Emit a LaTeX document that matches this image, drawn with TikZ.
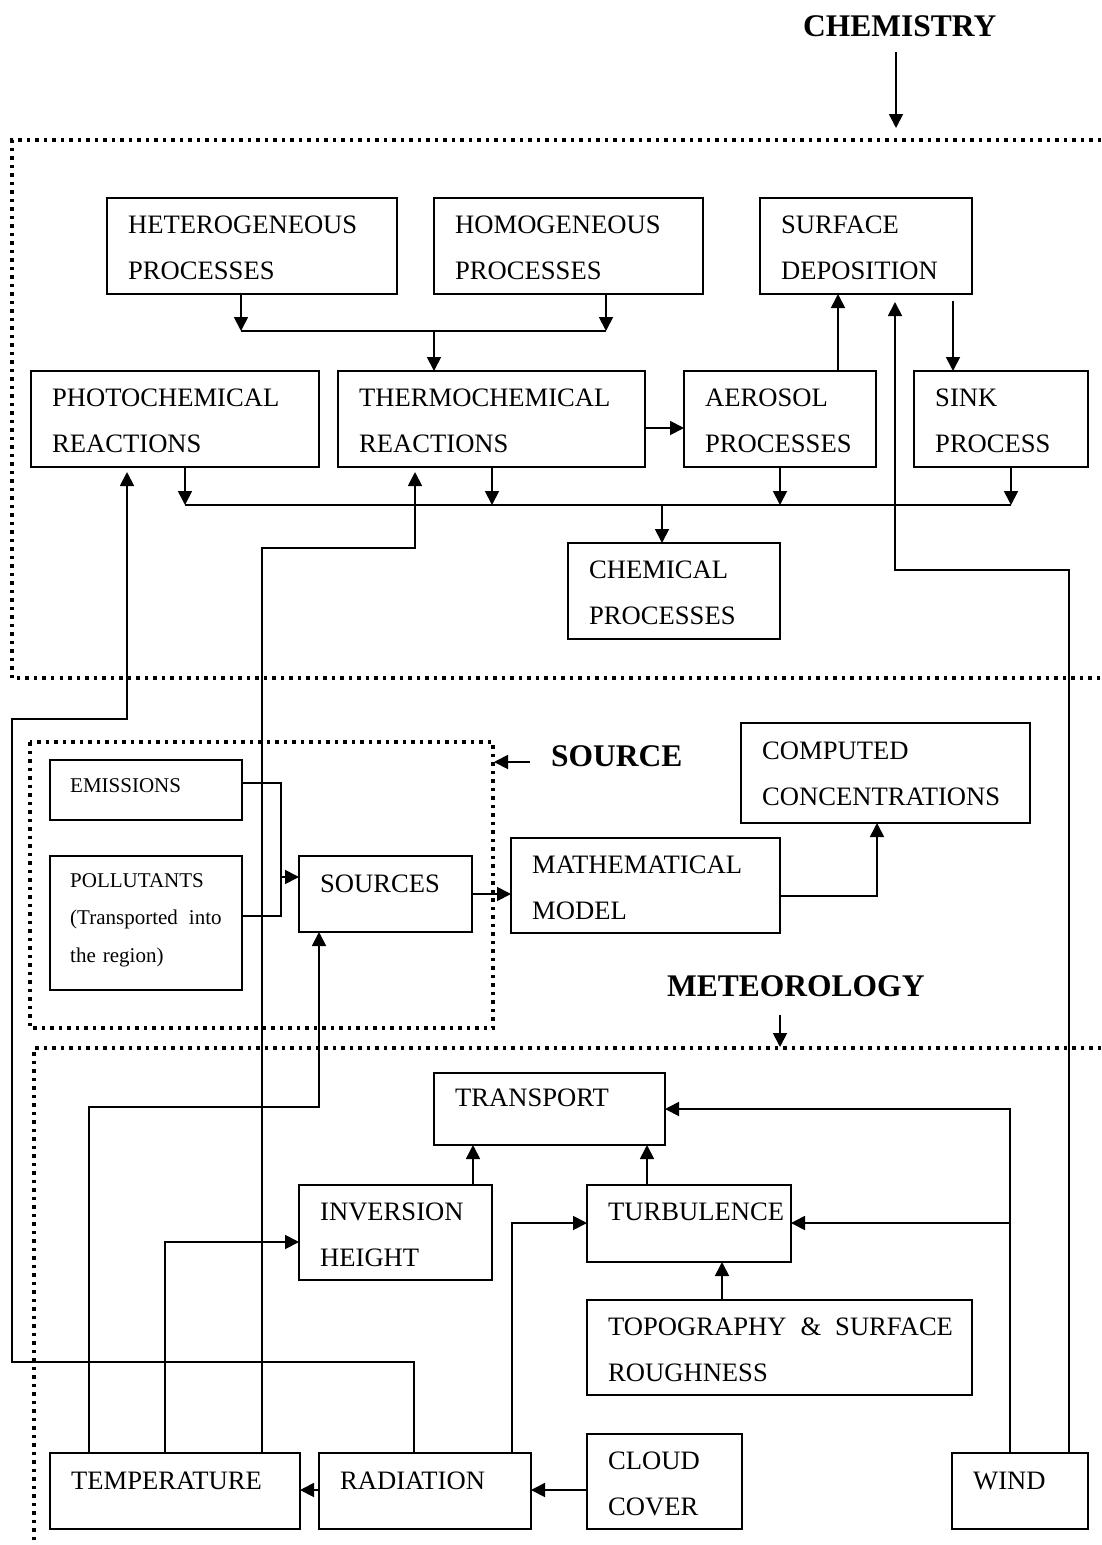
\documentclass[tikz,border=0pt]{standalone}
\usepackage{fontspec}
\setmainfont{Liberation Serif}
\usetikzlibrary{arrows.meta}
\begin{document}
\begin{tikzpicture}[x=1pt,y=-1pt,
 box/.style={draw, line width=2.5pt, anchor=north west, inner sep=0pt, outer sep=0pt},
 txt/.style={anchor=base west, inner sep=0pt, text width=420pt, align=left, font=\fontsize{26.6}{46}\selectfont},
 small/.style={txt, font=\fontsize{21}{37.5}\selectfont},
 head/.style={anchor=base west, inner sep=0pt, font=\fontsize{31.5}{36}\selectfont\bfseries},
 con/.style={line width=1.8pt},
 arr/.style={con, -{Triangle[length=14pt,width=14pt]}},
 dots/.style={line width=3.3pt, dash pattern=on 3.5pt off 5pt},
]
\useasboundingbox (0,0) rectangle (1101,1545);
\fill[white] (0,0) rectangle (1101,1545);

% ---------- dotted frames ----------
\draw[dots] (1101,140) -- (12,140) -- (12,678) -- (1101,678);
\draw[dots] (30,742) rectangle (493,1028);
\draw[dots] (1101,1048) -- (34,1048) -- (34,1545);

% ---------- headings ----------
\node[head] (chemL) at (803,36) {CHEMISTRY};
\node[head] (srcL) at (551,766) {SOURCE};
\node[head] (metL) at (667,996) {METEOROLOGY};
\coordinate (ca0) at (896,52);  \coordinate (ca1) at (896,128);
\coordinate (sa0) at (530,762); \coordinate (sa1) at (494,762);
\coordinate (ma0) at (780,1015);\coordinate (ma1) at (780,1047);
\draw[arr] (ca0) -- (ca1);
\draw[arr] (sa0) -- (sa1);
\draw[arr] (ma0) -- (ma1);

% ---------- chemistry boxes ----------
\node[box, minimum width=290pt, minimum height=96pt] (het) at (107,198) {};
\node[txt] (het-t) at (128,233) {HETEROGENEOUS\\PROCESSES};
\node[box, minimum width=269pt, minimum height=96pt] (hom) at (434,198) {};
\node[txt] (hom-t) at (455,233) {HOMOGENEOUS\\PROCESSES};
\node[box, minimum width=212pt, minimum height=96pt] (surf) at (760,198) {};
\node[txt] (surf-t) at (781,233) {SURFACE\\DEPOSITION};
\node[box, minimum width=288pt, minimum height=96pt] (photo) at (31,371) {};
\node[txt] (photo-t) at (52,406) {PHOTOCHEMICAL\\REACTIONS};
\node[box, minimum width=307pt, minimum height=96pt] (thermo) at (338,371) {};
\node[txt] (thermo-t) at (359,406) {THERMOCHEMICAL\\REACTIONS};
\node[box, minimum width=192pt, minimum height=96pt] (aer) at (684,371) {};
\node[txt] (aer-t) at (705,406) {AEROSOL\\PROCESSES};
\node[box, minimum width=174pt, minimum height=96pt] (sink) at (914,371) {};
\node[txt] (sink-t) at (935,406) {SINK\\PROCESS};
\node[box, minimum width=212pt, minimum height=96pt] (chem) at (568,543) {};
\node[txt] (chem-t) at (589,578) {CHEMICAL\\PROCESSES};

% ---------- source boxes ----------
\node[box, minimum width=192pt, minimum height=60pt] (emis) at (50,760) {};
\node[small] (emis-t) at (70,792) {EMISSIONS};
\node[box, minimum width=192pt, minimum height=134pt] (poll) at (50,856) {};
\node[small] (poll-t) at (70,887) {POLLUTANTS\\(Transported\hspace{11pt}into\\the region)};
\node[box, minimum width=173pt, minimum height=76pt] (src) at (299,856) {};
\node[txt] (src-t) at (320,892) {SOURCES};
\node[box, minimum width=269pt, minimum height=95pt] (math) at (511,838) {};
\node[txt] (math-t) at (532,873) {MATHEMATICAL\\MODEL};
\node[box, minimum width=289pt, minimum height=100pt] (comp) at (741,723) {};
\node[txt] (comp-t) at (762,759) {COMPUTED\\CONCENTRATIONS};

% ---------- meteorology boxes ----------
\node[box, minimum width=231pt, minimum height=72pt] (trans) at (434,1073) {};
\node[txt] (trans-t) at (455,1106) {TRANSPORT};
\node[box, minimum width=193pt, minimum height=95pt] (inv) at (299,1185) {};
\node[txt] (inv-t) at (320,1220) {INVERSION\\HEIGHT};
\node[box, minimum width=204pt, minimum height=77pt] (turb) at (587,1185) {};
\node[txt] (turb-t) at (608,1220) {TURBULENCE};
\node[box, minimum width=385pt, minimum height=95pt] (topo) at (587,1300) {};
\node[txt] (topo-t) at (608,1335) {TOPOGRAPHY\hspace{14pt}\&\hspace{14pt}SURFACE\\ROUGHNESS};
\node[box, minimum width=250pt, minimum height=76pt] (temp) at (50,1453) {};
\node[txt] (temp-t) at (71,1489) {TEMPERATURE};
\node[box, minimum width=212pt, minimum height=76pt] (rad) at (319,1453) {};
\node[txt] (rad-t) at (340,1489) {RADIATION};
\node[box, minimum width=155pt, minimum height=95pt] (cloud) at (587,1434) {};
\node[txt] (cloud-t) at (608,1469) {CLOUD\\COVER};
\node[box, minimum width=136pt, minimum height=76pt] (wind) at (952,1453) {};
\node[txt] (wind-t) at (973,1489) {WIND};

% ---------- chemistry connectors ----------
\coordinate (jhl) at (241,331);
\coordinate (jhr) at (606,331);
\draw[arr] (het.south -| jhl) -- (jhl);
\draw[arr] (hom.south -| jhr) -- (jhr);
\draw[con] (jhl) -- (jhr);
\draw[arr] (jhl -| hom.west) -- (thermo.north -| hom.west);
\draw[arr] ([yshift=-9pt]thermo.east) -- ([yshift=-9pt]aer.west);
\coordinate (a1) at (838,371);
\draw[arr] (a1) -- (a1 |- surf.south);
\coordinate (s1) at (953,301);
\draw[arr] (s1) -- (s1 |- sink.north);
\coordinate (b1) at (185,505);
\coordinate (b2) at (492,505);
\coordinate (b3) at (780,505);
\coordinate (b4) at (1011,505);
\coordinate (b5) at (662,505);
\draw[arr] (b1 |- photo.south) -- (b1);
\draw[arr] (b2 |- thermo.south) -- (b2);
\draw[arr] (b3 |- aer.south) -- (b3);
\draw[arr] (b4 |- sink.south) -- (b4);
\draw[con] (b1) -- (b4);
\draw[arr] (b5) -- (b5 |- chem.north);

% ---------- long feedback connectors ----------
\coordinate (w1) at (1069,570);
\coordinate (w2) at (895,570);
\coordinate (w3) at (895,302);
\draw[arr] (wind.north -| w1) -- (w1) -- (w2) -- (w3);
\coordinate (r1) at (414,1362);
\coordinate (r2) at (12,1362);
\coordinate (r3) at (12,719);
\coordinate (r4) at (127,719);
\coordinate (r5) at (127,472);
\draw[arr] (rad.north -| r1) -- (r1) -- (r2) -- (r3) -- (r4) -- (r5);
\coordinate (t1) at (262,548);
\coordinate (t2) at (415,548);
\coordinate (t3) at (415,472);
\draw[arr] (temp.north -| t1) -- (t1) -- (t2) -- (t3);

% ---------- source connectors ----------
\coordinate (e1) at (281,783);
\coordinate (e2) at (281,916);
\coordinate (e3) at (281,877);
\draw[con] (e1 -| emis.east) -- (e1) -- (e2) -- (e2 -| poll.east);
\draw[arr] (e3) -- (e3 -| src.west);
\coordinate (m0) at (0,894);
\draw[arr] (m0 -| src.east) -- (m0 -| math.west);
\coordinate (m1) at (877,896);
\draw[arr] (m1 -| math.east) -- (m1) -- (m1 |- comp.south);

% ---------- meteorology connectors ----------
\coordinate (t4) at (89,1107);
\coordinate (t5) at (319,1107);
\draw[arr] (temp.north -| t4) -- (t4) -- (t5) -- (t5 |- src.south);
\coordinate (t6) at (165,1242);
\draw[arr] (temp.north -| t6) -- (t6) -- (t6 -| inv.west);
\coordinate (r6) at (512,1223);
\draw[arr] (rad.north -| r6) -- (r6) -- (r6 -| turb.west);
\coordinate (w4) at (1010,1109);
\coordinate (w5) at (1010,1223);
\draw[arr] (wind.north -| w4) -- (w4) -- (w4 -| trans.east);
\draw[arr] (w5) -- (w5 -| turb.east);
\coordinate (i1) at (473,0);
\draw[arr] (inv.north -| i1) -- (trans.south -| i1);
\coordinate (i2) at (647,0);
\draw[arr] (turb.north -| i2) -- (trans.south -| i2);
\coordinate (i3) at (722,0);
\draw[arr] (topo.north -| i3) -- (turb.south -| i3);
\coordinate (c1) at (0,1490);
\draw[arr] (c1 -| cloud.west) -- (c1 -| rad.east);
\draw[arr] (c1 -| rad.west) -- (c1 -| temp.east);
\end{tikzpicture}
\end{document}
